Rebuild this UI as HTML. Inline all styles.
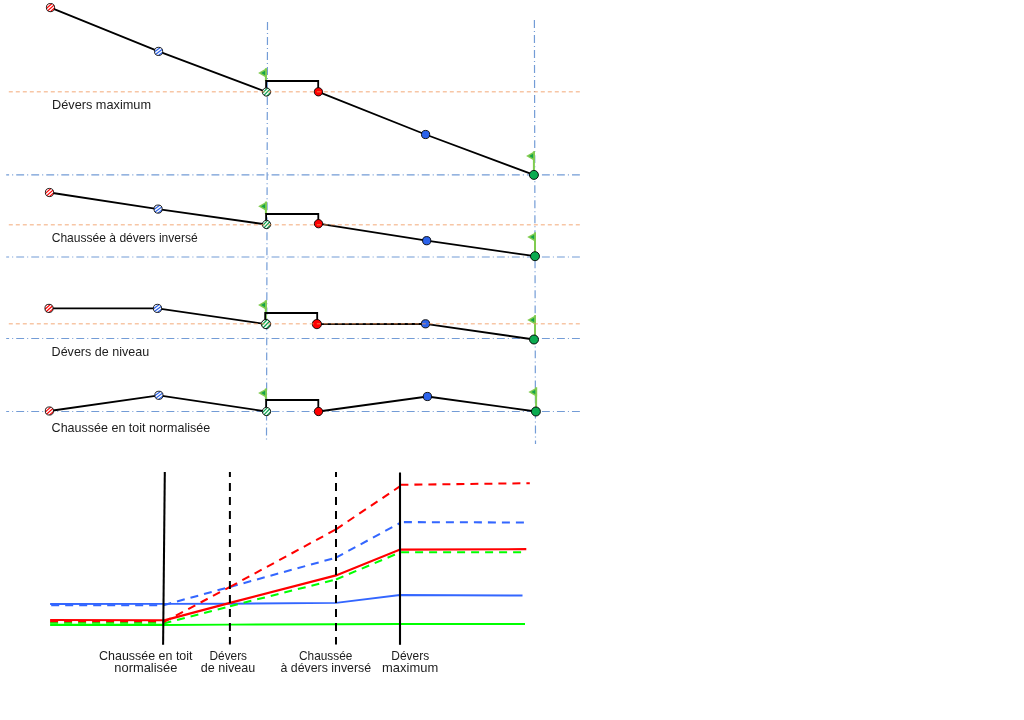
<!DOCTYPE html>
<html lang="fr">
<head>
<meta charset="utf-8">
<title>Dévers</title>
<style>
html,body{margin:0;padding:0;background:#fff;}
body{width:1024px;height:720px;overflow:hidden;}
svg{display:block;}
text{font-family:"Liberation Sans",sans-serif;fill:#1c1c1c;}
</style>
</head>
<body>
<svg width="1024" height="720" viewBox="0 0 1024 720">
<defs>
<clipPath id="cc"><circle r="4.1"/></clipPath>
</defs>
<rect width="1024" height="720" fill="#fff"/>

<g fill="none" stroke="#739cd6" stroke-width="1.2" stroke-dasharray="7.9 3.06 1 3.06">
<line x1="6.2" y1="174.8" x2="580" y2="174.8" stroke-dashoffset="5"/>
<line x1="6.2" y1="257.0" x2="580" y2="257.0" stroke-dashoffset="5"/>
<line x1="6.2" y1="338.5" x2="580" y2="338.5" stroke-dashoffset="5"/>
<line x1="6.2" y1="411.5" x2="580" y2="411.5" stroke-dashoffset="5"/>
<line x1="267.5" y1="22" x2="266.5" y2="440"/>
<line x1="534.4" y1="20" x2="535.5" y2="444"/>
</g>
<path d="M266.9 68.1 L258.15 72.90 L265.9 77.40 L266.9 77.40 Z" fill="#80cc50"/><line x1="265.9" y1="68.3" x2="265.9" y2="81.0" stroke="#80cc50" stroke-width="2"/><path d="M265.10 70.65 L261.10 72.90 L265.10 75.15 Z" fill="#16a34a"/>
<path d="M534.9 151.1 L526.15 155.90 L533.9 160.40 L534.9 160.40 Z" fill="#80cc50"/><line x1="533.9" y1="151.29999999999998" x2="533.9" y2="174.9" stroke="#80cc50" stroke-width="2"/><path d="M533.10 153.65 L529.10 155.90 L533.10 158.15 Z" fill="#16a34a"/>
<g fill="none" stroke="#000" stroke-width="1.8" stroke-linejoin="miter">
<polyline points="50.5,7.6 158.6,51.4 266.5,92.0"/>
<polyline points="266.1,92.0 266.1,81.0 318.2,81.0 318.2,91.8"/>
<polyline points="318.4,91.8 425.6,134.5 533.9,174.9"/>
</g>
<g transform="translate(50.5 7.6) scale(1.000)"><circle r="4.1" fill="#fff"/><g clip-path="url(#cc)" stroke="#ff0000" stroke-width="1.2"><line x1="-9.24" y1="-1.30" x2="-0.33" y2="-9.33"/><line x1="-7.54" y1="0.60" x2="1.38" y2="-7.43"/><line x1="-5.83" y1="2.49" x2="3.09" y2="-5.54"/><line x1="-4.12" y1="4.39" x2="4.79" y2="-3.64"/><line x1="-2.42" y1="6.28" x2="6.50" y2="-1.75"/><line x1="-0.71" y1="8.18" x2="8.21" y2="0.15"/><line x1="0.99" y1="10.07" x2="9.91" y2="2.04"/></g><circle r="4.1" fill="none" stroke="#000" stroke-width="0.85"/></g>
<g transform="translate(158.6 51.4) scale(1.000)"><circle r="4.1" fill="#fff"/><g clip-path="url(#cc)" stroke="#2b62ea" stroke-width="1.2"><line x1="-9.19" y1="-2.22" x2="0.40" y2="-9.44"/><line x1="-7.62" y1="-0.14" x2="1.96" y2="-7.36"/><line x1="-6.06" y1="1.93" x2="3.53" y2="-5.29"/><line x1="-4.49" y1="4.01" x2="5.09" y2="-3.21"/><line x1="-2.93" y1="6.09" x2="6.66" y2="-1.14"/><line x1="-1.36" y1="8.16" x2="8.22" y2="0.94"/><line x1="0.20" y1="10.24" x2="9.79" y2="3.02"/></g><circle r="4.1" fill="none" stroke="#000" stroke-width="0.85"/></g>
<g transform="translate(266.5 92.0) scale(1.012)"><circle r="4.1" fill="#fff"/><g clip-path="url(#cc)" stroke="#0aa550" stroke-width="1.2"><line x1="-9.31" y1="-0.65" x2="-0.98" y2="-9.28"/><line x1="-7.48" y1="1.12" x2="0.86" y2="-7.51"/><line x1="-5.64" y1="2.89" x2="2.69" y2="-5.74"/><line x1="-3.81" y1="4.66" x2="4.53" y2="-3.97"/><line x1="-1.97" y1="6.43" x2="6.36" y2="-2.20"/><line x1="-0.14" y1="8.21" x2="8.20" y2="-0.43"/><line x1="1.69" y1="9.98" x2="10.03" y2="1.35"/></g><circle r="4.1" fill="none" stroke="#000" stroke-width="0.85"/></g>
<circle cx="318.4" cy="91.8" r="4.15" fill="#ff0000" stroke="#000" stroke-width="0.9"/>
<circle cx="425.6" cy="134.5" r="4.1" fill="#2b62ea" stroke="#000" stroke-width="0.9"/>
<circle cx="533.9" cy="174.9" r="4.5" fill="#0bab50" stroke="#000" stroke-width="0.9"/>
<path d="M266.9 201.4 L258.15 206.20 L265.9 210.70 L266.9 210.70 Z" fill="#80cc50"/><line x1="265.9" y1="201.6" x2="265.9" y2="214.0" stroke="#80cc50" stroke-width="2"/><path d="M265.10 203.95 L261.10 206.20 L265.10 208.45 Z" fill="#16a34a"/>
<path d="M536.0 232.2 L527.25 237.00 L535.0 241.50 L536.0 241.50 Z" fill="#80cc50"/><line x1="535.0" y1="232.39999999999998" x2="535.0" y2="256.2" stroke="#80cc50" stroke-width="2"/><path d="M534.20 234.75 L530.20 237.00 L534.20 239.25 Z" fill="#16a34a"/>
<g fill="none" stroke="#000" stroke-width="1.8" stroke-linejoin="miter">
<polyline points="49.5,192.5 158.1,209.1 266.5,224.5"/>
<polyline points="266.1,224.5 266.1,214.0 318.3,214.0 318.3,223.7"/>
<polyline points="318.5,223.7 426.7,240.7 535.0,256.2"/>
</g>
<g transform="translate(49.5 192.5) scale(1.000)"><circle r="4.1" fill="#fff"/><g clip-path="url(#cc)" stroke="#ff0000" stroke-width="1.2"><line x1="-9.24" y1="-1.30" x2="-0.33" y2="-9.33"/><line x1="-7.54" y1="0.60" x2="1.38" y2="-7.43"/><line x1="-5.83" y1="2.49" x2="3.09" y2="-5.54"/><line x1="-4.12" y1="4.39" x2="4.79" y2="-3.64"/><line x1="-2.42" y1="6.28" x2="6.50" y2="-1.75"/><line x1="-0.71" y1="8.18" x2="8.21" y2="0.15"/><line x1="0.99" y1="10.07" x2="9.91" y2="2.04"/></g><circle r="4.1" fill="none" stroke="#000" stroke-width="0.85"/></g>
<g transform="translate(158.1 209.1) scale(1.000)"><circle r="4.1" fill="#fff"/><g clip-path="url(#cc)" stroke="#2b62ea" stroke-width="1.2"><line x1="-9.19" y1="-2.22" x2="0.40" y2="-9.44"/><line x1="-7.62" y1="-0.14" x2="1.96" y2="-7.36"/><line x1="-6.06" y1="1.93" x2="3.53" y2="-5.29"/><line x1="-4.49" y1="4.01" x2="5.09" y2="-3.21"/><line x1="-2.93" y1="6.09" x2="6.66" y2="-1.14"/><line x1="-1.36" y1="8.16" x2="8.22" y2="0.94"/><line x1="0.20" y1="10.24" x2="9.79" y2="3.02"/></g><circle r="4.1" fill="none" stroke="#000" stroke-width="0.85"/></g>
<g transform="translate(266.5 224.5) scale(1.012)"><circle r="4.1" fill="#fff"/><g clip-path="url(#cc)" stroke="#0aa550" stroke-width="1.2"><line x1="-9.31" y1="-0.65" x2="-0.98" y2="-9.28"/><line x1="-7.48" y1="1.12" x2="0.86" y2="-7.51"/><line x1="-5.64" y1="2.89" x2="2.69" y2="-5.74"/><line x1="-3.81" y1="4.66" x2="4.53" y2="-3.97"/><line x1="-1.97" y1="6.43" x2="6.36" y2="-2.20"/><line x1="-0.14" y1="8.21" x2="8.20" y2="-0.43"/><line x1="1.69" y1="9.98" x2="10.03" y2="1.35"/></g><circle r="4.1" fill="none" stroke="#000" stroke-width="0.85"/></g>
<circle cx="318.5" cy="223.7" r="4.15" fill="#ff0000" stroke="#000" stroke-width="0.9"/>
<circle cx="426.7" cy="240.7" r="4.1" fill="#2b62ea" stroke="#000" stroke-width="0.9"/>
<circle cx="535.0" cy="256.2" r="4.5" fill="#0bab50" stroke="#000" stroke-width="0.9"/>
<path d="M266.8 300.1 L258.05 304.90 L265.8 309.40 L266.8 309.40 Z" fill="#80cc50"/><line x1="265.8" y1="300.3" x2="265.8" y2="324.1" stroke="#80cc50" stroke-width="2"/><path d="M265.00 302.65 L261.00 304.90 L265.00 307.15 Z" fill="#16a34a"/>
<path d="M536.0 315.1 L527.25 319.90 L535.0 324.40 L536.0 324.40 Z" fill="#80cc50"/><line x1="535.0" y1="315.3" x2="535.0" y2="339.5" stroke="#80cc50" stroke-width="2"/><path d="M534.20 317.65 L530.20 319.90 L534.20 322.15 Z" fill="#16a34a"/>
<g fill="none" stroke="#000" stroke-width="1.8" stroke-linejoin="miter">
<polyline points="49.0,308.4 157.5,308.4 266.0,324.1"/>
<polyline points="265.2,324.1 265.2,313.0 317.2,313.0 317.2,324.1"/>
<polyline points="316.9,324.1 425.5,323.8 534.0,339.5"/>
</g>
<g transform="translate(49.0 308.4) scale(1.000)"><circle r="4.1" fill="#fff"/><g clip-path="url(#cc)" stroke="#ff0000" stroke-width="1.2"><line x1="-9.24" y1="-1.30" x2="-0.33" y2="-9.33"/><line x1="-7.54" y1="0.60" x2="1.38" y2="-7.43"/><line x1="-5.83" y1="2.49" x2="3.09" y2="-5.54"/><line x1="-4.12" y1="4.39" x2="4.79" y2="-3.64"/><line x1="-2.42" y1="6.28" x2="6.50" y2="-1.75"/><line x1="-0.71" y1="8.18" x2="8.21" y2="0.15"/><line x1="0.99" y1="10.07" x2="9.91" y2="2.04"/></g><circle r="4.1" fill="none" stroke="#000" stroke-width="0.85"/></g>
<g transform="translate(157.5 308.4) scale(1.000)"><circle r="4.1" fill="#fff"/><g clip-path="url(#cc)" stroke="#2b62ea" stroke-width="1.2"><line x1="-9.19" y1="-2.22" x2="0.40" y2="-9.44"/><line x1="-7.62" y1="-0.14" x2="1.96" y2="-7.36"/><line x1="-6.06" y1="1.93" x2="3.53" y2="-5.29"/><line x1="-4.49" y1="4.01" x2="5.09" y2="-3.21"/><line x1="-2.93" y1="6.09" x2="6.66" y2="-1.14"/><line x1="-1.36" y1="8.16" x2="8.22" y2="0.94"/><line x1="0.20" y1="10.24" x2="9.79" y2="3.02"/></g><circle r="4.1" fill="none" stroke="#000" stroke-width="0.85"/></g>
<g transform="translate(266.0 324.1) scale(1.122)"><circle r="4.1" fill="#fff"/><g clip-path="url(#cc)" stroke="#0aa550" stroke-width="1.2"><line x1="-9.31" y1="-0.65" x2="-0.98" y2="-9.28"/><line x1="-7.48" y1="1.12" x2="0.86" y2="-7.51"/><line x1="-5.64" y1="2.89" x2="2.69" y2="-5.74"/><line x1="-3.81" y1="4.66" x2="4.53" y2="-3.97"/><line x1="-1.97" y1="6.43" x2="6.36" y2="-2.20"/><line x1="-0.14" y1="8.21" x2="8.20" y2="-0.43"/><line x1="1.69" y1="9.98" x2="10.03" y2="1.35"/></g><circle r="4.1" fill="none" stroke="#000" stroke-width="0.85"/></g>
<circle cx="316.9" cy="324.1" r="4.6" fill="#ff0000" stroke="#000" stroke-width="0.9"/>
<circle cx="425.5" cy="323.8" r="4.1" fill="#2b62ea" stroke="#000" stroke-width="0.9"/>
<circle cx="534.0" cy="339.5" r="4.5" fill="#0bab50" stroke="#000" stroke-width="0.9"/>
<path d="M266.9 388.3 L258.15 393.10 L265.9 397.60 L266.9 397.60 Z" fill="#80cc50"/><line x1="265.9" y1="388.5" x2="265.9" y2="400.0" stroke="#80cc50" stroke-width="2"/><path d="M265.10 390.85 L261.10 393.10 L265.10 395.35 Z" fill="#16a34a"/>
<path d="M537.1 387.2 L528.35 392.00 L536.1 396.50 L537.1 396.50 Z" fill="#80cc50"/><line x1="536.1" y1="387.4" x2="536.1" y2="411.5" stroke="#80cc50" stroke-width="2"/><path d="M535.30 389.75 L531.30 392.00 L535.30 394.25 Z" fill="#16a34a"/>
<g fill="none" stroke="#000" stroke-width="1.8" stroke-linejoin="miter">
<polyline points="49.4,411.0 158.9,395.3 266.5,411.5"/>
<polyline points="266.1,411.5 266.1,400.0 318.3,400.0 318.3,411.5"/>
<polyline points="318.5,411.5 427.4,396.5 535.9,411.5"/>
</g>
<g transform="translate(49.4 411.0) scale(1.000)"><circle r="4.1" fill="#fff"/><g clip-path="url(#cc)" stroke="#ff0000" stroke-width="1.2"><line x1="-9.24" y1="-1.30" x2="-0.33" y2="-9.33"/><line x1="-7.54" y1="0.60" x2="1.38" y2="-7.43"/><line x1="-5.83" y1="2.49" x2="3.09" y2="-5.54"/><line x1="-4.12" y1="4.39" x2="4.79" y2="-3.64"/><line x1="-2.42" y1="6.28" x2="6.50" y2="-1.75"/><line x1="-0.71" y1="8.18" x2="8.21" y2="0.15"/><line x1="0.99" y1="10.07" x2="9.91" y2="2.04"/></g><circle r="4.1" fill="none" stroke="#000" stroke-width="0.85"/></g>
<g transform="translate(158.9 395.3) scale(1.000)"><circle r="4.1" fill="#fff"/><g clip-path="url(#cc)" stroke="#2b62ea" stroke-width="1.2"><line x1="-9.19" y1="-2.22" x2="0.40" y2="-9.44"/><line x1="-7.62" y1="-0.14" x2="1.96" y2="-7.36"/><line x1="-6.06" y1="1.93" x2="3.53" y2="-5.29"/><line x1="-4.49" y1="4.01" x2="5.09" y2="-3.21"/><line x1="-2.93" y1="6.09" x2="6.66" y2="-1.14"/><line x1="-1.36" y1="8.16" x2="8.22" y2="0.94"/><line x1="0.20" y1="10.24" x2="9.79" y2="3.02"/></g><circle r="4.1" fill="none" stroke="#000" stroke-width="0.85"/></g>
<g transform="translate(266.5 411.5) scale(1.012)"><circle r="4.1" fill="#fff"/><g clip-path="url(#cc)" stroke="#0aa550" stroke-width="1.2"><line x1="-9.31" y1="-0.65" x2="-0.98" y2="-9.28"/><line x1="-7.48" y1="1.12" x2="0.86" y2="-7.51"/><line x1="-5.64" y1="2.89" x2="2.69" y2="-5.74"/><line x1="-3.81" y1="4.66" x2="4.53" y2="-3.97"/><line x1="-1.97" y1="6.43" x2="6.36" y2="-2.20"/><line x1="-0.14" y1="8.21" x2="8.20" y2="-0.43"/><line x1="1.69" y1="9.98" x2="10.03" y2="1.35"/></g><circle r="4.1" fill="none" stroke="#000" stroke-width="0.85"/></g>
<circle cx="318.5" cy="411.5" r="4.15" fill="#ff0000" stroke="#000" stroke-width="0.9"/>
<circle cx="427.4" cy="396.5" r="4.1" fill="#2b62ea" stroke="#000" stroke-width="0.9"/>
<circle cx="535.9" cy="411.5" r="4.5" fill="#0bab50" stroke="#000" stroke-width="0.9"/>
<g fill="none" stroke="#f1975b" stroke-opacity="0.55" stroke-width="1.45" stroke-dasharray="4 3">
<line x1="8.8" y1="91.8" x2="580.5" y2="91.8"/>
<line x1="8.8" y1="224.7" x2="580.5" y2="224.7"/>
<line x1="8.8" y1="323.8" x2="580.5" y2="323.8"/>
</g>
<text x="52.0" y="108.8" font-size="12.1" textLength="99.0" lengthAdjust="spacingAndGlyphs" text-anchor="start">Dévers maximum</text>
<text x="51.7" y="241.9" font-size="12.1" textLength="146.1" lengthAdjust="spacingAndGlyphs" text-anchor="start">Chaussée à dévers inversé</text>
<text x="51.6" y="356.2" font-size="12.1" textLength="97.6" lengthAdjust="spacingAndGlyphs" text-anchor="start">Dévers de niveau</text>
<text x="51.6" y="432.1" font-size="12.1" textLength="158.6" lengthAdjust="spacingAndGlyphs" text-anchor="start">Chaussée en toit normalisée</text>
<g fill="none" stroke-width="1.9">
<polyline stroke="#00ff00" stroke-width="2.1" points="50.1,624.85 163.5,624.85"/>
<polyline stroke="#00ff00" points="163.3,625.0 230,624.6 336,624.2 400,624 525,624"/>
<polyline stroke="#3366ff" points="50.1,604.05 163.5,603.9 230,603.7 336,602.9 400,595 522.5,595.5"/>
<g stroke-dasharray="8 6">
<line stroke="#00ff00" stroke-width="1.9" x1="50.1" y1="622.9" x2="163.5" y2="622.9" stroke-dashoffset="0"/>
<line stroke="#00ff00" stroke-width="2.05" x1="163.5" y1="623.6" x2="230" y2="606.2" stroke-dashoffset="0"/><line stroke="#00ff00" stroke-width="2.05" x1="230" y1="606.2" x2="336" y2="579.5" stroke-dashoffset="0"/><line stroke="#00ff00" stroke-width="2.05" x1="336" y1="579.5" x2="400.3" y2="552.3" stroke-dashoffset="0"/>
<line stroke="#00ff00" stroke-width="2.05" x1="401.1" y1="552.3" x2="521.2" y2="552.3" stroke-dashoffset="0"/>
<line stroke="#3366ff" stroke-width="2.05" x1="51.2" y1="605.3" x2="163.5" y2="605.2" stroke-dashoffset="0"/><line stroke="#3366ff" stroke-width="2.05" x1="163.5" y1="605.2" x2="230" y2="586.9" stroke-dashoffset="0"/><line stroke="#3366ff" stroke-width="2.05" x1="230" y1="586.9" x2="336" y2="557.6" stroke-dashoffset="0"/><line stroke="#3366ff" stroke-width="2.05" x1="336" y1="557.6" x2="400" y2="523.0" stroke-dashoffset="0"/>
<line stroke="#3366ff" stroke-width="2.05" x1="403.9" y1="522.1" x2="524.3" y2="522.5" stroke-dashoffset="0"/>
<line stroke="#ff0000" stroke-width="1.5" x1="50.1" y1="621.4" x2="163.5" y2="621.4" stroke-dashoffset="0"/>
<line stroke="#ff0000" stroke-width="2.05" x1="163.5" y1="622.2" x2="230" y2="586.9" stroke-dashoffset="0"/><line stroke="#ff0000" stroke-width="2.05" x1="230" y1="586.9" x2="336" y2="529.3" stroke-dashoffset="0"/><line stroke="#ff0000" stroke-width="2.05" x1="336" y1="529.3" x2="399.5" y2="486.6" stroke-dashoffset="0"/>
<line stroke="#ff0000" stroke-width="2.05" x1="400.4" y1="484.8" x2="529.8" y2="483.2" stroke-dashoffset="0"/>
</g>
<polyline stroke="#ff0000" stroke-width="2.0" points="50.1,619.9 163.5,620.3"/>
<polyline stroke="#ff0000" stroke-width="2.2" points="163.3,620.6 230,602.9 336,575.4 400,549.6 526.3,549.2"/>
</g>
<g fill="none" stroke="#000">
<line x1="164.8" y1="472.1" x2="163.1" y2="644.8" stroke-width="2.05"/>
<line x1="400" y1="472.5" x2="400" y2="644.8" stroke-width="2.1"/>
<line x1="229.9" y1="471.9" x2="229.9" y2="644.4" stroke-width="2.0" stroke-dasharray="7.8 6.2" stroke-dashoffset="2.8"/>
<line x1="336.0" y1="471.9" x2="336.0" y2="644.4" stroke-width="2.0" stroke-dasharray="7.8 6.2" stroke-dashoffset="2.8"/>
</g>
<text x="99.1" y="659.5" font-size="12.2" textLength="93.4" lengthAdjust="spacingAndGlyphs" text-anchor="start">Chaussée en toit</text>
<text x="114.3" y="671.6" font-size="12.2" textLength="63.1" lengthAdjust="spacingAndGlyphs" text-anchor="start">normalisée</text>
<text x="209.5" y="659.5" font-size="12.2" textLength="37.5" lengthAdjust="spacingAndGlyphs" text-anchor="start">Dévers</text>
<text x="200.7" y="671.6" font-size="12.2" textLength="54.5" lengthAdjust="spacingAndGlyphs" text-anchor="start">de niveau</text>
<text x="299.0" y="659.5" font-size="12.2" textLength="53.3" lengthAdjust="spacingAndGlyphs" text-anchor="start">Chaussée</text>
<text x="280.5" y="671.6" font-size="12.2" textLength="90.6" lengthAdjust="spacingAndGlyphs" text-anchor="start">à dévers inversé</text>
<text x="391.3" y="659.5" font-size="12.2" textLength="37.8" lengthAdjust="spacingAndGlyphs" text-anchor="start">Dévers</text>
<text x="382.1" y="671.6" font-size="12.2" textLength="56.1" lengthAdjust="spacingAndGlyphs" text-anchor="start">maximum</text>
</svg>
</body>
</html>
